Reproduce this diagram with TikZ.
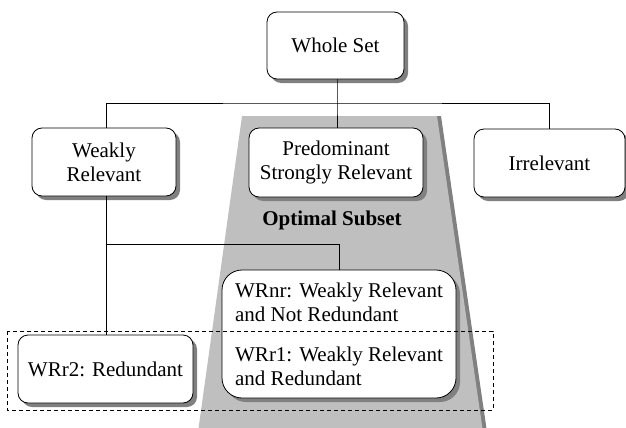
\documentclass[tikz,border=0pt]{standalone}
\usepackage{fontspec}
\setmainfont{Liberation Serif}
\newfontfamily\setfont{Liberation Serif}
\usetikzlibrary{shadows}
\begin{document}
\begin{tikzpicture}[x=1pt, y=-1pt, line width=0.8pt,
    every node/.style={font=\setfont\fontsize{21}{24}\selectfont},
    setbox/.style={draw, fill=white, rounded corners=10pt, inner sep=0pt, align=center,
      drop shadow={shadow xshift=4pt, shadow yshift=-4pt, fill=black!50, opacity=1}}]
  \useasboundingbox (0,0) rectangle (626,428);

  % optimal subset region
  \fill[black!50] (246,116) -- (441,116) -- (487,432) -- (202,432) -- cycle;
  \fill[black!25] (242,116) -- (437,116) -- (483,432) -- (198,432) -- cycle;
  \node[anchor=base, font=\setfont\bfseries\fontsize{21}{24}\selectfont] (opt) at (332,225) {Optimal Subset};

  \node[setbox, minimum width=137pt, minimum height=67pt] (whole) at (335.5,45.5) {Whole Set};
  \node[setbox, minimum width=144pt, minimum height=68pt] (weak) at (104,162) {Weakly\\Relevant};
  \node[setbox, minimum width=174pt, minimum height=69pt] (pred) at (336,162.5) {Predominant\\Strongly Relevant};
  \node[setbox, minimum width=151pt, minimum height=68pt] (irr) at (549.5,163) {Irrelevant};
  \node[setbox, minimum width=175pt, minimum height=68pt] (wrr2) at (105.5,369) {WRr2: Redundant};
  \node[setbox, rounded corners=20pt, align=left, minimum width=234pt, minimum height=128pt] (wrnr) at (339,334)
    {WRnr: Weakly Relevant\\and Not Redundant\\[16pt]WRr1: Weakly Relevant\\and Redundant};

  \coordinate (bus) at (337,103);
  \coordinate (split) at (106,244);
  \draw (bus |- whole.south) -- (bus) -- (bus |- pred.north);
  \draw (split |- weak.north) |- (bus) -| (irr.north);
  \draw (split |- weak.south) -- (split |- wrr2.north);
  \draw (split) -| (wrnr.north);

  \draw[dash pattern=on 4pt off 3pt] (7,331) rectangle (493,410);
\end{tikzpicture}
\end{document}
